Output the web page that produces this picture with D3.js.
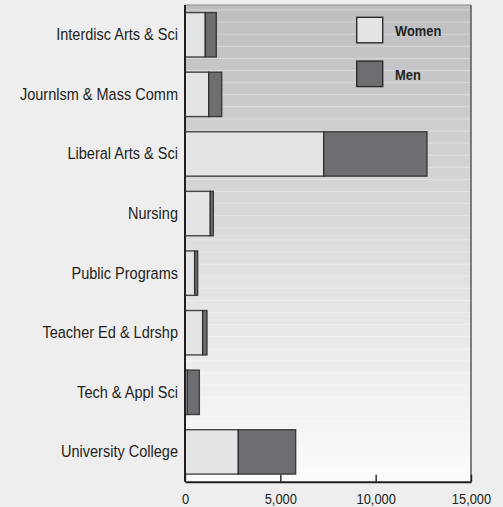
<!DOCTYPE html>
<html><head><meta charset="utf-8">
<script src="https://cdn.jsdelivr.net/npm/d3@7"></script>
<style>
html,body{margin:0;padding:0;background:#eeeeee;}
svg{display:block;}
text{font-family:"Liberation Sans Narrow","Arial Narrow","Liberation Sans",Arial,sans-serif;fill:#231f20;}
</style></head>
<body>
<script>
const categories = ["Interdisc Arts & Sci","Journlsm & Mass Comm","Liberal Arts & Sci","Nursing","Public Programs","Teacher Ed & Ldrshp","Tech & Appl Sci","University College"];
const women = [1065, 1243, 7274, 1327, 507, 927, 122, 2797];
const men   = [577, 682, 5418, 159, 157, 227, 630, 3007];
const seriesNames = ["Women","Men"];
const seriesColors = ["#e3e4e6","#6d6e71"];
const tickValues = [0, 5000, 10000, 15000];

const W = 503, H = 507;
const m = {left:185, right:32, top:5, bottom:25.3};
const svg = d3.select("body").append("svg").attr("width",W).attr("height",H);

const x = d3.scaleLinear().domain([0,15000]).range([m.left, W-m.right]);
const y = d3.scaleBand().domain(categories).range([m.top, H-m.bottom]).paddingInner(0.255).paddingOuter(0.1275);

const defs = svg.append("defs");
const g = defs.append("linearGradient").attr("id","bg").attr("x1",0).attr("y1",0).attr("x2",0).attr("y2",1);
g.append("stop").attr("offset","0%").attr("stop-color","#bdbec0");
g.append("stop").attr("offset","100%").attr("stop-color","#fcfcfc");

const pw = x(15000)-x(0), ph = (H-m.bottom)-m.top;
svg.append("rect").attr("x",x(0)).attr("y",m.top).attr("width",pw).attr("height",ph).attr("fill","url(#bg)");
// faint stripes
const stripes = d3.range(m.top+5, H-m.bottom, 12.1);
svg.append("g").selectAll("line").data(stripes).join("line")
  .attr("x1",x(0)).attr("x2",x(15000)).attr("y1",d=>d).attr("y2",d=>d)
  .attr("stroke","#ffffff").attr("stroke-opacity",0.35).attr("stroke-width",1);

// frame top & right
svg.append("line").attr("x1",x(0)).attr("x2",x(15000)).attr("y1",m.top).attr("y2",m.top).attr("stroke","#8a8a8c").attr("stroke-width",1.2);
svg.append("line").attr("x1",x(15000)).attr("x2",x(15000)).attr("y1",m.top).attr("y2",H-m.bottom).attr("stroke","#58595b").attr("stroke-width",1.5);

// stacked bars
const stackData = categories.map((c,i)=>({cat:c, Women:women[i], Men:men[i]}));
const stack = d3.stack().keys(seriesNames)(stackData);
svg.append("g").selectAll("g").data(stack).join("g")
  .attr("fill",(d,i)=>seriesColors[i])
  .selectAll("rect").data(d=>d).join("rect")
  .attr("x",d=>x(d[0])).attr("width",d=>x(d[1])-x(d[0]))
  .attr("y",d=>y(d.data.cat)).attr("height",y.bandwidth())
  .attr("stroke","#2b2b2d").attr("stroke-opacity",0.85).attr("stroke-width",1.4);

// left axis line
svg.append("line").attr("x1",x(0)).attr("x2",x(0)).attr("y1",m.top).attr("y2",H-m.bottom).attr("stroke","#231f20").attr("stroke-width",2);

// bottom axis
const xAxis = d3.axisBottom(x).tickValues(tickValues).tickSize(0).tickPadding(12).tickFormat(d3.format(","));
const ax = svg.append("g").attr("transform",`translate(0,${H-m.bottom})`).call(xAxis);
ax.select(".domain").attr("stroke","#231f20").attr("stroke-width",2);
ax.selectAll(".tick line").remove();
ax.selectAll(".tick").append("line").attr("y1",0).attr("y2",-7).attr("stroke","#231f20").attr("stroke-width",1.4);
ax.selectAll("text").attr("font-size",15).attr("font-family",null).style("fill","#231f20")
  .attr("transform","scale(0.86,1)");

// category labels
const yAxis = d3.axisLeft(y).tickSize(0).tickPadding(7);
const ay = svg.append("g").attr("transform",`translate(${x(0)},0)`).call(yAxis);
ay.select(".domain").remove();
ay.selectAll("text").attr("font-size",17).attr("font-family",null).style("fill","#231f20")
  .attr("x",0).attr("transform","translate(-7,0) scale(0.855,1)");

// legend
const leg = svg.append("g");
seriesNames.forEach((s,i)=>{
  const ly = 17.3 + i*43.8;
  leg.append("rect").attr("x",356.7).attr("y",ly).attr("width",26).attr("height",25.5)
    .attr("fill",seriesColors[i]).attr("stroke","#2b2b2d").attr("stroke-width",1.4);
  leg.append("text").attr("transform",`translate(395,${ly+13}) scale(0.86,1)`).attr("dy","0.36em")
    .attr("font-size",15).attr("font-weight","bold").text(s);
});
</script>
</body></html>
